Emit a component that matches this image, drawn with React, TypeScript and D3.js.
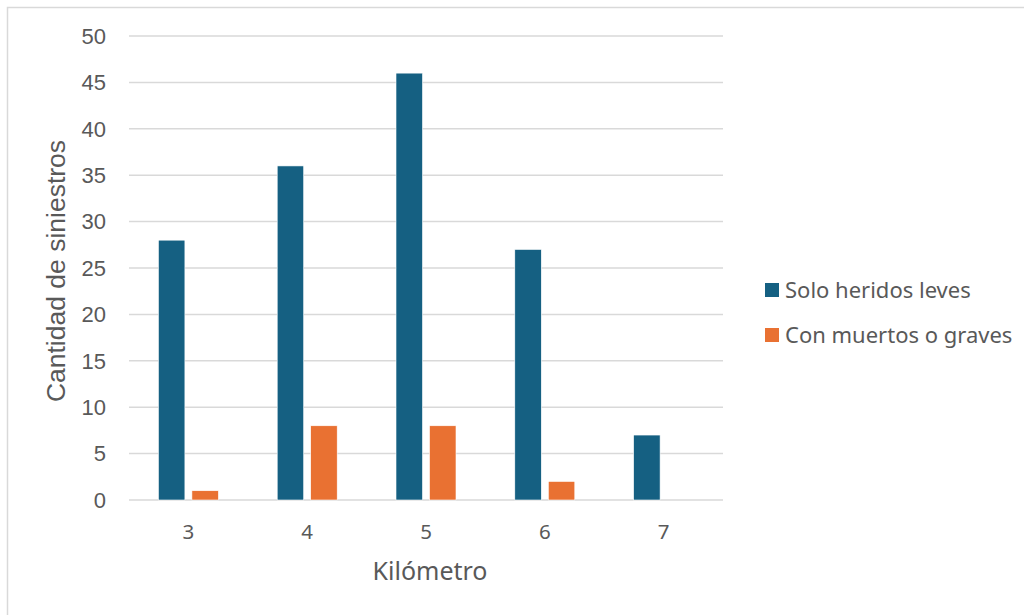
import React from "react";
import * as d3 from "d3";

const categories = ["3", "4", "5", "6", "7"];
const seriesNames = ["Solo heridos leves", "Con muertos o graves"];
const leves = [28, 36, 46, 27, 7];
const graves = [1, 8, 8, 2, 0];
const yTicks = [0, 5, 10, 15, 20, 25, 30, 35, 40, 45, 50];
const colors = ["#156082", "#E97132"];

const W = 1024;
const H = 615;
const plot = { left: 129, right: 723, top: 36, bottom: 500 };

export default function App() {
  const x = d3
    .scaleBand<string>()
    .domain(categories)
    .range([plot.left, plot.right]);
  const y = d3.scaleLinear().domain([0, 50]).range([plot.bottom, plot.top]);

  const barW = 26.5;
  const gap = 7;
  const series = [leves, graves];

  const tickFont = "'Liberation Sans', Arial, sans-serif";
  const textFont = "'Noto Sans', 'Open Sans', sans-serif";
  const textColor = "#595959";

  return (
    <svg
      width={W}
      height={H}
      style={{ position: "absolute", left: 0, top: 0, background: "#fff" }}
    >
      <rect x={0} y={0} width={W} height={H} fill="#fff" />
      <rect
        x={7.5}
        y={7.5}
        width={W + 20}
        height={H + 20}
        fill="none"
        stroke="#d9d9d9"
        strokeWidth={1.5}
      />
      {yTicks.map((t) => (
        <g key={t}>
          <line
            x1={plot.left}
            x2={plot.right}
            y1={y(t)}
            y2={y(t)}
            stroke="#d9d9d9"
            strokeWidth={1.5}
          />
          <text
            x={106}
            y={y(t) + 7.8}
            textAnchor="end"
            fontFamily={tickFont}
            fontSize={22}
            fill={textColor}
          >
            {t}
          </text>
        </g>
      ))}
      {categories.map((c, i) => {
        const cx = (x(c) as number) + x.bandwidth() / 2;
        return (
          <g key={c}>
            {series.map((s, k) => {
              const bx = cx - barW - gap / 2 + k * (barW + gap);
              const v = s[i];
              if (v <= 0) return null;
              return (
                <rect
                  key={k}
                  x={bx}
                  y={y(v)}
                  width={barW}
                  height={y(0) - y(v)}
                  fill={colors[k]}
                  stroke="#ffffff"
                  strokeWidth={0.6}
                />
              );
            })}
            <text
              x={cx}
              y={539}
              textAnchor="middle"
              fontFamily={textFont}
              fontSize={20.5}
              fill={textColor}
            >
              {c}
            </text>
          </g>
        );
      })}
      <text
        x={430}
        y={580}
        textAnchor="middle"
        fontFamily={textFont}
        fontSize={25}
        fill={textColor}
      >
        Kilómetro
      </text>
      <text
        transform={`translate(65, 271) rotate(-90)`}
        textAnchor="middle"
        fontFamily={tickFont}
        fontSize={26.5}
        fill={textColor}
      >
        Cantidad de siniestros
      </text>
      {seriesNames.map((n, k) => (
        <g key={n} transform={`translate(765, ${283 + k * 45})`}>
          <rect width={14} height={14} fill={colors[k]} />
          <text
            x={20}
            y={14.5}
            fontFamily={textFont}
            fontSize={22}
            fill={textColor}
          >
            {n}
          </text>
        </g>
      ))}
    </svg>
  );
}
